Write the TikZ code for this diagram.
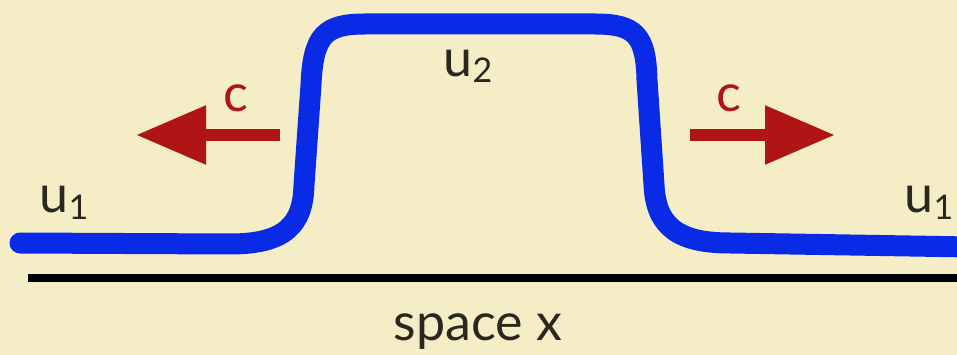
\documentclass[tikz,border=0pt]{standalone}
\usepackage{fontspec}
\setmainfont{Lato}
\usetikzlibrary{arrows.meta}
\definecolor{bg}{HTML}{F5EDC6}
\definecolor{wave}{HTML}{0A2BE6}
\definecolor{speed}{HTML}{B01414}
\definecolor{ink}{HTML}{2A281E}
\newcommand{\subl}[1]{\raisebox{-6pt}{\fontsize{34}{34}\selectfont #1}}
\tikzset{
  lbl/.style={font=\fontsize{52}{52}\selectfont, text=ink, anchor=base, inner sep=0pt},
  clbl/.style={font=\fontsize{52}{52}\selectfont, text=speed, anchor=base, inner sep=0pt},
  profile/.style={draw=wave, line width=21pt, line cap=round, line join=round},
  axis/.style={draw=black, line width=8pt},
  speedarrow/.style={draw=speed, line width=12pt, -{Triangle[length=70pt,width=56pt]}}
}
\begin{document}
\begin{tikzpicture}[x=1pt,y=-1pt]
\fill[bg] (0,0) rectangle (957,355);
\useasboundingbox (0,0) rectangle (957,355);
% profile
\coordinate (p0) at (20,243);
\coordinate (p1) at (230,244);
\coordinate (p2) at (304,185);
\coordinate (p3) at (311,85);
\coordinate (p4) at (365,24);
\coordinate (p5) at (595,24);
\coordinate (p6) at (647,80);
\coordinate (p7) at (654,185);
\coordinate (p8) at (730,243);
\coordinate (p9) at (970,247);
\draw[profile] (p0) -- (p1) .. controls (285,244) and (303,225) .. (p2)
  -- (p3) .. controls (313,35) and (325,24) .. (p4) -- (p5)
  .. controls (635,24) and (646,35) .. (p6) -- (p7)
  .. controls (656,228) and (680,243) .. (p8) -- (p9);
% axis
\coordinate (a0) at (28,278);
\coordinate (a1) at (957,278);
\draw[axis] (a0) -- (a1);
\node[lbl] (space) at (478,340) {space x};
% arrows
\coordinate (l0) at (280,135);
\coordinate (l1) at (136,135);
\coordinate (r0) at (690,135);
\coordinate (r1) at (835,135);
\draw[speedarrow] (l0) -- (l1);
\draw[speedarrow] (r0) -- (r1);
\node[clbl] (cl) at (236,112) {c};
\node[clbl] (cr) at (729,112) {c};
% labels
\node[lbl] (u2) at (468,77) {u\subl{2}};
\node[lbl] (u1l) at (64,213) {u\subl{1}};
\node[lbl] (u1r) at (929,213) {u\subl{1}};
\end{tikzpicture}
\end{document}
